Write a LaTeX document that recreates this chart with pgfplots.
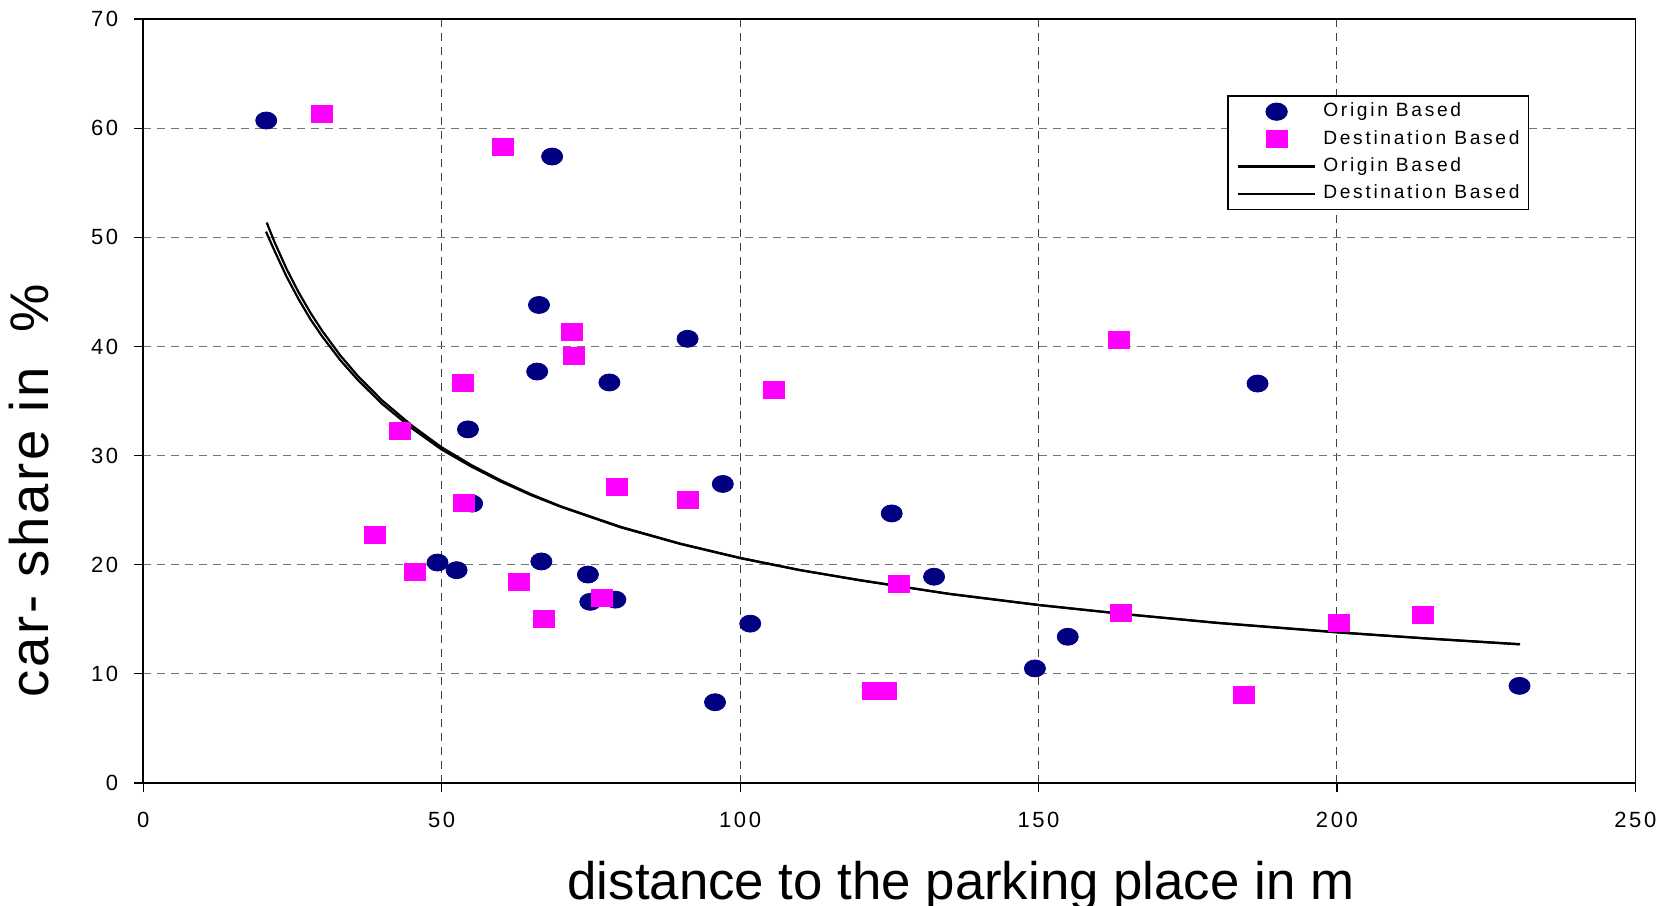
\documentclass[border=0pt]{standalone}
\usepackage{fontspec}
\setmainfont{Liberation Sans}
\newfontfamily\tickfont[LetterSpace=12]{Liberation Sans}
\newfontfamily\legfont[LetterSpace=14]{Liberation Sans}
\newfontfamily\ylabfont[LetterSpace=5]{Liberation Sans}
\usepackage{pgfplots}
\usepackage{pgfplotstable}
\pgfplotsset{compat=1.18}
\definecolor{navyc}{RGB}{0,0,128}
\definecolor{magc}{RGB}{255,0,255}
\pgfplotsset{
  linelegend/.style={legend image code/.code={\draw[##1] (0pt,0pt) -- (38.6pt,0pt);}},
  marklegend/.style={legend image code/.code={\draw[##1] plot coordinates {(19.3pt,0pt)};}},
}

\pgfplotstableread{
x y
20.6 60.7
68.5 57.4
66.3 43.8
91.2 40.7
66.0 37.7
78.1 36.7
54.4 32.4
97.1 27.4
55.1 25.6
125.4 24.7
49.3 20.2
66.7 20.3
52.5 19.5
74.5 19.1
132.5 18.9
74.9 16.6
79.1 16.8
101.7 14.6
154.9 13.4
149.4 10.5
95.8 7.4
186.7 36.6
230.6 8.9
}\origin

\pgfplotstableread{
x y
29.9 61.3
60.3 58.3
71.8 41.3
72.2 39.1
53.5 36.7
105.6 36.0
163.4 40.6
43.0 32.3
79.3 27.1
91.2 25.9
53.7 25.7
38.8 22.7
45.5 19.3
62.9 18.4
76.8 17.0
67.2 15.0
126.6 18.2
163.8 15.6
200.4 14.7
214.4 15.4
122.3 8.4
124.5 8.4
184.4 8.1
}\dest

\begin{document}
\begin{tikzpicture}
\useasboundingbox (-71.65pt,-61.4pt) rectangle (760.35pt,391.5pt);
\begin{axis}[
  scale only axis, width=746pt, height=382pt,
  xmin=0, xmax=250, ymin=0, ymax=70,
  xtick={0,50,...,250}, ytick={0,10,...,70},
  grid=major,
  x grid style={black!75, dash pattern=on 4pt off 3pt, line width=0.5pt},
  y grid style={black!55, dash pattern=on 4pt off 3pt, line width=0.5pt},
  axis line style={line width=0.8pt},
  tick align=outside, xtick pos=bottom, ytick pos=left,
  major tick length=4.5pt,
  tick style={black, line width=0.6pt},
  /pgf/number format/assume math mode=true,
  ticklabel style={font=\tickfont\fontsize{11}{13}\selectfont},
  xticklabel style={yshift=-6.5pt},
  yticklabel style={xshift=-4.5pt},
  xlabel={distance to the parking place in m},
  ylabel={car- share in \ \%},
  xlabel style={font=\fontsize{26.4}{30}\selectfont, at={(axis description cs:0.548,-0.153)}, anchor=base},
  ylabel style={font=\ylabfont\fontsize{27.2}{30}\selectfont, at={(axis description cs:-0.0632,0.383)}, anchor=base},
  legend style={at={(axis description cs:0.9288,0.8999)}, anchor=north east,
    draw=black, line width=0.6pt, fill=white,
    font=\legfont\fontsize{9.6}{11}\selectfont,
    inner xsep=4.5pt, inner ysep=3.3pt, row sep=4.7pt, column sep=3.5pt,
    nodes={inner sep=0pt, text height=7pt, text depth=2pt}},
  legend cell align=left,
]
\addplot[only marks, mark=*, mark size=4.25pt, mark options={xscale=1.24, fill=navyc, draw=navyc},
  marklegend] table {\origin};
\addlegendentry{Origin Based}
\addplot[only marks, mark=square*, mark size=5.25pt, mark options={yscale=0.81, fill=magc, draw=magc},
  marklegend] table {\dest};
\addlegendentry{Destination Based}
\addplot[black, line width=1.1pt, mark=none, linelegend] coordinates {
(20.68,51.35) (22,49.55) (24,47.11) (26,44.98) (28,43.09) (30,41.41) (33,39.18) (36,37.26)
(40,35.06) (45,32.75) (50,30.75) (55,29.12) (60,27.70) (65,26.45) (70,25.34) (80,23.47)
(90,21.93) (100,20.63) (110,19.52) (120,18.57) (135,17.34) (150,16.32) (165,15.44)
(180,14.68) (200,13.82) (215,13.25) (230.7,12.72)
};
\addlegendentry{Origin Based}
\addplot[black, line width=1.1pt, mark=none, linelegend] coordinates {
(20.56,50.52) (22,48.75) (24,46.40) (26,44.35) (28,42.50) (30,40.90) (33,38.75) (36,36.90)
(40,34.75) (45,32.50) (50,30.55) (55,28.98) (60,27.60) (65,26.37) (70,25.30) (80,23.42)
(90,21.90) (100,20.60) (110,19.50) (120,18.60) (135,17.32) (150,16.30) (165,15.45)
(180,14.66) (200,13.80) (215,13.24) (230.6,12.70)
};
\addlegendentry{Destination Based}
\end{axis}
\end{tikzpicture}
\end{document}
